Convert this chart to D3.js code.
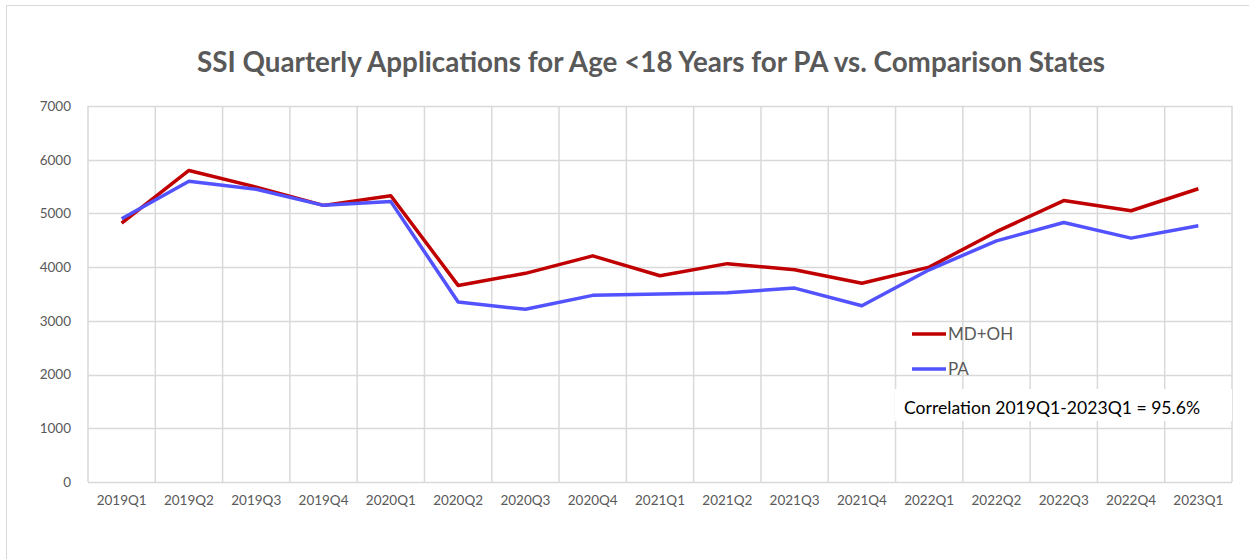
<!DOCTYPE html>
<html>
<head>
<meta charset="utf-8">
<script src="https://cdn.jsdelivr.net/npm/d3@7"></script>
<style>
  body { margin: 0; background: #fff; }
  svg { display: block; }
  text { font-family: Lato, "Open Sans", sans-serif; }
</style>
</head>
<body>
<svg id="chart" width="1249" height="559"></svg>
<script>
var quarters = ['2019Q1', '2019Q2', '2019Q3', '2019Q4', '2020Q1', '2020Q2', '2020Q3', '2020Q4',
  '2021Q1', '2021Q2', '2021Q3', '2021Q4', '2022Q1', '2022Q2', '2022Q3', '2022Q4', '2023Q1'];
var mdOh = [4820, 5800, 5490, 5150, 5330, 3660, 3885, 4210, 3840, 4065, 3950, 3700, 4000, 4660, 5240, 5050, 5460];
var pa = [4900, 5600, 5450, 5150, 5220, 3350, 3215, 3475, 3500, 3525, 3610, 3280, 3950, 4490, 4830, 4540, 4770];
var yTicks = [0, 1000, 2000, 3000, 4000, 5000, 6000, 7000];
var seriesNames = ['MD+OH', 'PA'];
var seriesColors = ['#c00000', '#5252ff'];

var svg = d3.select('#chart');
var plot = {left: 88, right: 1232, top: 106, bottom: 482};

svg.append('rect')
  .attr('x', 6.5).attr('y', 5.5).attr('width', 1300).attr('height', 600)
  .attr('fill', '#fff').attr('stroke', '#d9d9d9');

svg.append('text')
  .attr('x', 651).attr('y', 72)
  .attr('text-anchor', 'middle')
  .attr('font-size', 27.8).attr('font-weight', 'bold')
  .attr('fill', '#595959')
  .text('SSI Quarterly Applications for Age <18 Years for PA vs. Comparison States');

var x = d3.scaleBand().domain(quarters).range([plot.left, plot.right]);
var y = d3.scaleLinear().domain([0, 7000]).range([plot.bottom, plot.top]);

// gridlines
var grid = svg.append('g');
grid.selectAll('.hgrid').data(yTicks).enter().append('line')
  .attr('x1', plot.left).attr('x2', plot.right)
  .attr('y1', function(d) { return Math.round(y(d)) + 0.5; })
  .attr('y2', function(d) { return Math.round(y(d)) + 0.5; })
  .attr('stroke', '#d9d9d9').attr('stroke-width', 1.5);
grid.selectAll('.vgrid').data(quarters.concat(['end'])).enter().append('line')
  .attr('x1', function(d, i) { return plot.left + i * x.step(); })
  .attr('x2', function(d, i) { return plot.left + i * x.step(); })
  .attr('y1', plot.top).attr('y2', plot.bottom)
  .attr('stroke', '#d9d9d9').attr('stroke-width', 1.5);

// axes
var yAxis = svg.append('g')
  .attr('transform', 'translate(' + (plot.left - 14) + ',0)')
  .call(d3.axisLeft(y).tickValues(yTicks).tickSize(0).tickFormat(d3.format('d')));
yAxis.select('.domain').remove();
yAxis.selectAll('text').attr('font-size', 13.5).attr('fill', '#595959')
  .attr('font-family', 'Lato, "Open Sans", sans-serif');

var xAxis = svg.append('g')
  .attr('transform', 'translate(0,' + (plot.bottom + 10) + ')')
  .call(d3.axisBottom(x).tickSize(0));
xAxis.select('.domain').remove();
xAxis.selectAll('text').attr('font-size', 13.5).attr('fill', '#595959')
  .attr('font-family', 'Lato, "Open Sans", sans-serif');

// lines
var line = d3.line()
  .x(function(d, i) { return x(quarters[i]) + x.bandwidth() / 2; })
  .y(function(d) { return y(d); });

[mdOh, pa].forEach(function(values, i) {
  svg.append('path')
    .datum(values)
    .attr('d', line)
    .attr('fill', 'none')
    .attr('stroke', seriesColors[i])
    .attr('stroke-width', 3.5)
    .attr('stroke-linejoin', 'round');
});

// legend
var legend = svg.append('g').attr('transform', 'translate(912,334)');
var items = legend.selectAll('g').data(seriesNames).enter().append('g')
  .attr('transform', function(d, i) { return 'translate(0,' + i * 35 + ')'; });
items.append('line')
  .attr('x1', 0).attr('x2', 34)
  .attr('stroke', function(d, i) { return seriesColors[i]; })
  .attr('stroke-width', 3.5);
items.append('text')
  .attr('x', 36).attr('y', 6)
  .attr('font-size', 17).attr('fill', '#595959')
  .text(function(d) { return d; });

// correlation note
svg.append('rect')
  .attr('x', 895).attr('y', 389).attr('width', 337).attr('height', 32)
  .attr('fill', '#fff');
svg.append('text')
  .attr('x', 904).attr('y', 414)
  .attr('font-size', 17.6).attr('fill', '#000')
  .text('Correlation 2019Q1-2023Q1 = 95.6%');
</script>
</body>
</html>
